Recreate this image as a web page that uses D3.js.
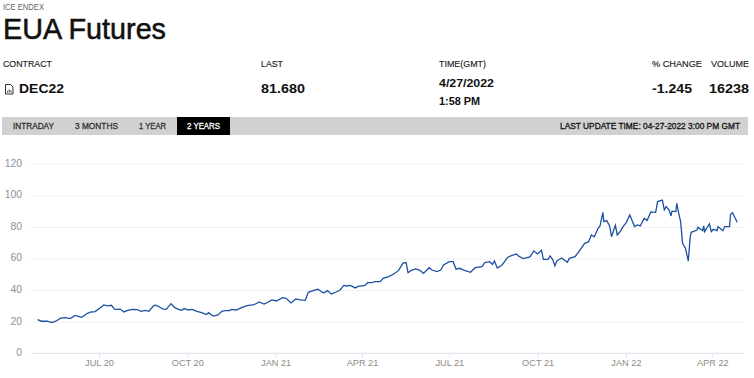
<!DOCTYPE html>
<head>
  <meta charset="utf-8">
  <script src="https://cdn.jsdelivr.net/npm/d3@7"></script>
  <style>
    body { margin: 0; background: #fff; }
    svg { display: block; font-family: "Liberation Sans", Arial, sans-serif; }
    .head { fill: #1a1a1a; font-size: 9.6px; stroke: #1a1a1a; stroke-width: .15; }
    .val { fill: #111; font-size: 13.6px; font-weight: 700; }
    .tab { fill: #333; font-size: 8.6px; stroke: #333; stroke-width: .3; }
    .grid line { stroke: #f0f1f3; }
    .axis-y text { fill: #87909c; font-size: 10.4px; }
    .axis-x text { fill: #8f8a84; font-size: 9.2px; }
  </style>
</head>

<body>
  <div id="chart"></div>
  <script>

  var dates2020 = ["2020-04-28","2020-05-02","2020-05-08","2020-05-13","2020-05-17","2020-05-22","2020-05-27","2020-06-01","2020-06-06","2020-06-13","2020-06-19","2020-06-22","2020-06-27","2020-07-02","2020-07-06","2020-07-10","2020-07-14","2020-07-17","2020-07-19","2020-07-23","2020-07-27","2020-07-30","2020-08-05","2020-08-10","2020-08-14","2020-08-18","2020-08-22","2020-08-27","2020-08-29","2020-09-02","2020-09-06","2020-09-09","2020-09-14","2020-09-18","2020-09-22","2020-09-25","2020-09-28","2020-10-02","2020-10-06","2020-10-11","2020-10-16","2020-10-21","2020-10-23","2020-10-28","2020-11-02","2020-11-06","2020-11-09","2020-11-14","2020-11-16","2020-11-21","2020-11-26","2020-12-02","2020-12-08","2020-12-11","2020-12-15"]
  var prices2020 = [21.3,20.3,20.3,19.4,20.3,22.2,22.6,22,24,22.8,25.3,26,26.4,28.7,30.6,30,30.4,28,27.8,28,26.2,27,27.8,27.6,26.6,27.2,26.6,30.2,30.4,29.3,28,27.8,31.4,28.9,27.8,27.2,28.3,27.4,27.8,26.6,25.7,24.5,25.7,23.6,24.3,26.6,27,27,27.8,27.4,28.7,30.2,30.6,31.2,32.5]

  var dates2021 = ["2020-12-20","2020-12-24","2020-12-28","2021-01-02","2021-01-08","2021-01-12","2021-01-17","2021-01-22","2021-01-27","2021-02-01","2021-02-04","2021-02-09","2021-02-14","2021-02-20","2021-02-24","2021-02-28","2021-03-05","2021-03-09","2021-03-13","2021-03-16","2021-03-20","2021-03-25","2021-03-28","2021-04-04","2021-04-07","2021-04-11","2021-04-15","2021-04-20","2021-04-23","2021-04-29","2021-05-04","2021-05-09","2021-05-14","2021-05-17","2021-05-19","2021-05-23","2021-05-27","2021-05-31","2021-06-04","2021-06-10","2021-06-13","2021-06-18","2021-06-22","2021-06-25","2021-07-01","2021-07-05","2021-07-08","2021-07-12","2021-07-16","2021-07-23","2021-07-28","2021-08-04","2021-08-07","2021-08-12","2021-08-15","2021-08-17","2021-08-20","2021-08-25","2021-08-31","2021-09-03"]
  var prices2021 = [31.2,32.3,33.8,33.1,35.2,34.8,31.9,34.4,33.8,33.5,38.6,39.7,40.5,38.2,39.7,37.6,38.8,39.9,43,42.6,43,41.4,42.4,43,44.7,44.7,45.4,45.4,47.5,48.5,50.2,52.3,57.2,57.4,51,52.7,53.4,52.7,50.6,54.2,52.7,51.7,52.7,55.9,58,58,53.2,53.8,52.7,51.3,54.2,54.9,57.4,58,56.3,58.4,54,55.9,60.8,61.6]

  var dates2022 = ["2021-09-09","2021-09-11","2021-09-16","2021-09-23","2021-09-27","2021-10-01","2021-10-05","2021-10-07","2021-10-12","2021-10-14","2021-10-17","2021-10-19","2021-10-21","2021-10-26","2021-11-01","2021-11-03","2021-11-09","2021-11-13","2021-11-19","2021-11-23","2021-11-26","2021-11-29","2021-12-03","2021-12-05","2021-12-08","2021-12-09","2021-12-12","2021-12-15","2021-12-17","2021-12-21","2021-12-23","2021-12-26","2021-12-29","2022-01-01","2022-01-05","2022-01-10","2022-01-13","2022-01-16","2022-01-20","2022-01-23","2022-01-27","2022-02-01","2022-02-03","2022-02-08","2022-02-10","2022-02-12","2022-02-15","2022-02-17","2022-02-18","2022-02-22","2022-02-23","2022-02-25","2022-02-27","2022-03-01","2022-03-04","2022-03-07","2022-03-09","2022-03-10","2022-03-16","2022-03-17","2022-03-22","2022-03-23","2022-03-24","2022-03-29","2022-03-31","2022-04-02","2022-04-06","2022-04-07","2022-04-12","2022-04-14","2022-04-19","2022-04-20","2022-04-22","2022-04-27"]
  var prices2022 = [62.9,61.6,59.9,61,64.8,62.9,65.2,59.5,59.5,61.6,59,55.3,58.4,60.3,57.6,60.1,61.2,64.3,69.6,70.5,74.9,73.8,79.1,80.6,89.2,83.3,84,80.6,73.8,81,74.9,77,80.2,82.3,87.6,80.2,81.2,80.6,85.4,84,89.5,89.2,96,97,90.7,92.8,90.7,86.9,90,89.7,94.9,88.6,83.3,69.6,66.5,58.4,73.8,76.6,78,79.7,77.6,80.6,77,81.9,77,78.5,77.6,80.2,77.6,80.2,80.2,88,89,82.9]

  var dates = dates2020.concat(dates2021, dates2022)
  var prices = prices2020.concat(prices2021, prices2022)

  var yTicks = [0, 20, 40, 60, 80, 100, 120]
  var xTickDates = ["2020-07-01","2020-10-01","2021-01-01","2021-04-01","2021-07-01","2021-10-01","2022-01-01","2022-04-01"]
  var tabs = ["INTRADAY", "3 MONTHS", "1 YEAR", "2 YEARS"]

  var parse = d3.utcParse("%Y-%m-%d")
    , width = 754
    , height = 378

  var svg = d3.select("#chart").append("svg")
      .attr("width", width)
      .attr("height", height)

  // header text, left to right
  function label(x, y, cls, txt, len) {
    var t = svg.append("text").attr("x", x).attr("y", y).attr("class", cls).text(txt)
    if (len) t.attr("textLength", len).attr("lengthAdjust", "spacingAndGlyphs")
    return t
  }

  label(3, 10, "", "ICE ENDEX", 41).style("font-size", "8.4px").style("fill", "#666")
  label(3, 39, "", "EUA Futures", 163)
    .style("font-size", "29.5px").style("fill", "#111").style("stroke", "#111").style("stroke-width", .55)

  label(3, 67, "head", "CONTRACT", 49)
  label(261, 67, "head", "LAST", 22)
  label(439, 67, "head", "TIME(GMT)", 47)
  label(652, 67, "head", "% CHANGE", 50)
  label(711, 67, "head", "VOLUME", 38)

  label(19, 92.5, "val", "DEC22", 45)
  label(261, 92.5, "val", "81.680", 44)
  label(439, 87, "val", "4/27/2022", 55).style("font-size", "11px")
  label(439, 105, "val", "1:58 PM", 41).style("font-size", "11px")
  label(652, 92.5, "val", "-1.245", 40)
  label(709, 92.5, "val", "16238", 40)

  // little document icon next to the contract
  svg.append("path")
    .attr("d", "M5.5 84.5h5l2.5 2.5v7h-7.5z M7.5 92.5v-1.5 M9.2 92.5v-3 M11 92.5v-2")
    .attr("fill", "none")
    .attr("stroke", "#333")
    .attr("stroke-width", 1)

  // tab strip
  svg.append("rect").attr("x", 2).attr("y", 117).attr("width", 746).attr("height", 18).attr("fill", "#d1d1d1")
  svg.append("rect").attr("x", 177).attr("y", 117).attr("width", 53).attr("height", 18).attr("fill", "#000")

  var tabX = [13, 75, 139, 187], tabW = [41, 43, 27, 33]
  tabs.forEach(function(d, i) {
    var t = label(tabX[i], 129, "tab", d, tabW[i])
    if (i == 3) t.style("fill", "#fff").style("stroke", "#fff")
  })
  label(560, 129, "tab", "LAST UPDATE TIME: 04-27-2022 3:00 PM GMT", 180).style("fill", "#111").style("stroke", "#111")

  // chart
  var x = d3.scaleUtc()
      .domain([parse("2020-07-01"), parse("2022-04-01")])
      .range([99, 712.3])

  var y = d3.scaleLinear()
      .domain([0, 120])
      .range([353.3, 163.7])

  var grid = svg.append("g")
      .attr("class", "grid")
      .attr("transform", "translate(31,0)")
      .call(d3.axisLeft(y).tickValues(yTicks.slice(1)).tickSize(-713).tickFormat(""))
  grid.select(".domain").remove()

  var yAxis = svg.append("g")
      .attr("class", "axis-y")
      .attr("transform", "translate(31,-1)")
      .call(d3.axisLeft(y).tickValues(yTicks).tickSize(0).tickPadding(9))
  yAxis.select(".domain").remove()

  var xAxis = svg.append("g")
      .attr("class", "axis-x")
      .attr("transform", "translate(0,353.3)")
      .call(d3.axisBottom(x)
        .tickValues(xTickDates.map(parse))
        .tickSize(5)
        .tickPadding(1)
        .tickFormat(function(d) { return d3.utcFormat("%b %y")(d).toUpperCase() }))
  xAxis.select(".domain").attr("d", "M31 0H744").attr("stroke", "#dde2ef")
  xAxis.selectAll(".tick line").attr("stroke", "#e3e6f0")

  var line = d3.line()
      .x(function(d, i) { return x(parse(dates[i])) })
      .y(function(d) { return y(d) })

  svg.append("path")
      .datum(prices)
      .attr("d", line)
      .attr("fill", "none")
      .attr("stroke", "#1c50a3")
      .attr("stroke-width", 1.3)

  </script>
</body>
